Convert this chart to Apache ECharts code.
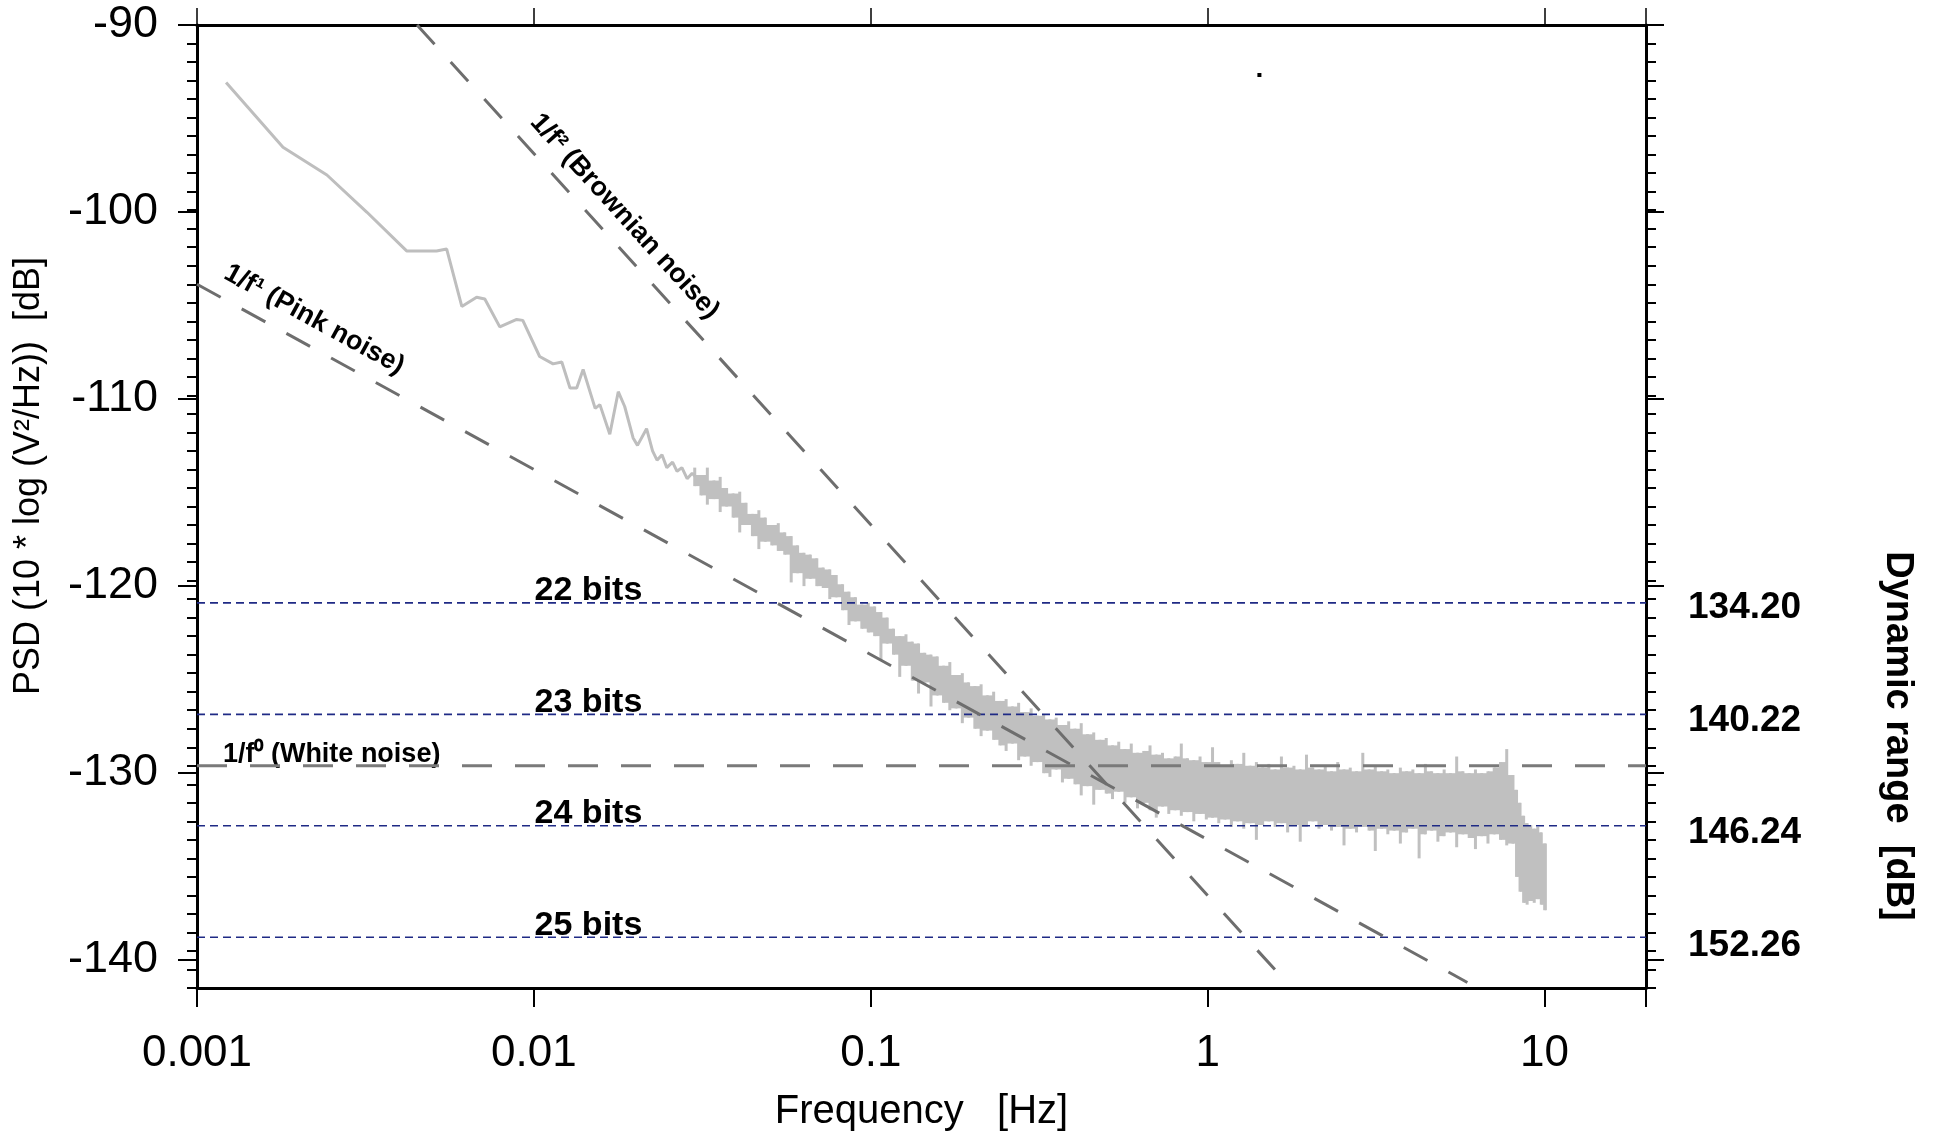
<!DOCTYPE html>
<html>
<head>
<meta charset="utf-8">
<script src="https://cdn.jsdelivr.net/npm/echarts@6/dist/echarts.min.js"></script>
<style>
html,body{margin:0;padding:0;background:#ffffff;}
#chart{width:1935px;height:1137px;}
</style>
</head>
<body>
<div id="chart"></div>
<script>
// ---------------- data ----------------
const xTickLabels = ['0.001', '0.01', '0.1', '1', '10'];
const yTickValues = [-140, -130, -120, -110, -100, -90];

const bitsNames = ['22 bits', '23 bits', '24 bits', '25 bits'];
const bitsLevels = [-121.2, -127.22, -133.24, -139.26];
const dynRange = ['134.20', '140.22', '146.24', '152.26'];

// low-frequency part of the measured PSD (single trace)
const psdLineF = [0.00122, 0.00180, 0.00243, 0.00319, 0.00419, 0.00514, 0.00551, 0.00611, 0.00676, 0.00715,
  0.00792, 0.00889, 0.00927, 0.0104, 0.0114, 0.0121, 0.0128, 0.0134, 0.0140, 0.0152,
  0.0157, 0.0168, 0.0178, 0.0186, 0.0197, 0.0203, 0.0216, 0.0225, 0.0232, 0.0240,
  0.0248, 0.0258, 0.0266, 0.0275, 0.0285, 0.0295, 0.0302];
const psdLineV = [-93.1, -96.6, -98.1, -100.1, -102.2, -102.2, -102.1, -105.2, -104.7, -104.8,
  -106.3, -105.9, -105.95, -107.9, -108.3, -108.2, -109.6, -109.6, -108.6, -110.7,
  -110.5, -112.1, -109.8, -110.6, -112.3, -112.7, -111.8, -113.0, -113.5, -113.2,
  -113.9, -113.6, -114.1, -113.9, -114.5, -114.2, -114.4];

// high-frequency part: per frequency bin, upper and lower extent of the noisy trace
const bandF = [
  0.0300, 0.0313, 0.0327, 0.0342, 0.0357, 0.0373, 0.0390, 0.0408, 0.0426, 0.0445,
  0.0465, 0.0486, 0.0508, 0.0531, 0.0555, 0.0580, 0.0606, 0.0633, 0.0661, 0.0691,
  0.0722, 0.0755, 0.0789, 0.0824, 0.0861, 0.0900, 0.0940, 0.0982,
  0.1026, 0.1071, 0.1118, 0.1167, 0.1218, 0.1271, 0.1327, 0.1385, 0.1445, 0.1508,
  0.1574, 0.1643, 0.1715, 0.1790, 0.1868, 0.1950, 0.2035, 0.2124, 0.2217, 0.2314,
  0.2415, 0.2520, 0.2630, 0.2745, 0.2865, 0.2990, 0.3120, 0.3257, 0.3400, 0.3548,
  0.3703, 0.3865, 0.4034, 0.4210, 0.4394, 0.4586, 0.4786, 0.4995, 0.5213, 0.5441,
  0.5679, 0.5927, 0.6186, 0.6456, 0.6738, 0.7032, 0.7339, 0.7660, 0.7995, 0.8344,
  0.8708, 0.9088, 0.9485, 0.9899,
  1.033, 1.078, 1.125, 1.175, 1.226, 1.279, 1.335, 1.394, 1.455, 1.518,
  1.585, 1.654, 1.726, 1.802, 1.881, 1.963, 2.049, 2.138, 2.232, 2.329,
  2.431, 2.537, 2.648, 2.764, 2.885, 3.011, 3.142, 3.280, 3.423, 3.573,
  3.729, 3.892, 4.062, 4.239, 4.425, 4.618, 4.820, 5.030, 5.250, 5.480,
  5.719, 5.969, 6.230, 6.502, 6.786, 7.083, 7.392, 7.715, 8.052,
  8.25, 8.45, 8.66, 8.87, 9.09, 9.31, 9.54, 9.77, 10.0, 10.1];
const bandHi = [
  -113.9, -114.3, -113.9, -114.6, -114.4, -115.0, -115.3, -115.2, -115.8, -116.4,
  -116.2, -116.6, -117.0, -116.9, -117.4, -117.6, -118.1, -118.5, -118.6, -118.8,
  -119.3, -119.4, -119.7, -120.2, -120.6, -120.9, -121.3, -121.2,
  -121.4, -121.7, -122.0, -122.6, -123.0, -122.9, -123.3, -123.4, -123.9, -124.0,
  -124.1, -124.6, -124.4, -125.1, -125.0, -125.5, -125.7, -125.6, -126.2, -126.0,
  -126.5, -126.4, -126.8, -126.6, -127.1, -126.9, -127.3, -127.2, -127.5, -127.4,
  -127.8, -127.6, -128.0, -127.7, -128.3, -128.2, -128.6, -128.5, -128.9, -128.7,
  -129.1, -128.8, -129.3, -129.2, -128.9, -129.4, -129.3, -129.6, -129.5, -128.8,
  -129.6, -129.7, -129.5, -129.8,
  -129.0, -129.8, -130.0, -129.7, -129.9, -129.3, -130.0, -129.8, -130.1, -129.9,
  -130.2, -129.5, -130.1, -130.0, -130.2, -129.4, -130.1, -130.2, -130.0, -130.3,
  -129.8, -130.2, -130.1, -130.3, -129.3, -130.2, -130.0, -130.3, -130.2, -130.4,
  -130.1, -130.3, -130.2, -130.4, -129.9, -130.3, -130.4, -130.2, -130.4, -129.5,
  -130.3, -130.4, -130.2, -130.4, -130.3, -130.1, -129.8, -129.1, -130.5,
  -131.3, -132.0, -132.7, -133.1, -133.2, -133.4, -133.3, -133.6, -134.2];
const bandLo = [
  -114.9, -115.4, -115.9, -115.6, -116.3, -116.0, -116.6, -117.4, -117.0, -117.6,
  -118.3, -117.9, -118.1, -118.4, -118.6, -120.1, -119.6, -120.3, -119.9, -120.3,
  -120.4, -121.0, -120.9, -121.6, -122.4, -122.2, -122.6, -122.8,
  -123.0, -124.3, -123.4, -124.0, -125.2, -124.6, -125.4, -126.1, -125.5, -126.8,
  -126.2, -126.6, -127.0, -126.9, -127.7, -127.4, -128.0, -128.4, -128.1, -128.6,
  -128.9, -129.2, -128.8, -129.7, -129.5, -130.0, -129.8, -130.4, -130.6, -130.2,
  -130.9, -130.7, -131.0, -131.6, -131.1, -132.1, -131.3, -131.5, -131.8, -131.4,
  -132.0, -131.7, -132.3, -132.0, -132.4, -132.8, -132.2, -132.6, -132.4, -132.7,
  -132.5, -133.0, -132.6, -132.9,
  -132.8, -133.1, -132.9, -133.3, -133.0, -133.4, -133.1, -134.0, -133.2, -133.0,
  -133.3, -133.1, -133.6, -133.2, -134.1, -133.3, -133.0, -133.4, -133.2, -133.5,
  -133.3, -134.3, -133.4, -133.6, -133.3, -133.5, -134.6, -133.4, -133.7, -133.5,
  -134.2, -133.6, -133.4, -135.0, -133.7, -133.5, -134.1, -133.8, -133.6, -134.4,
  -133.7, -133.9, -134.5, -133.8, -134.2, -133.7, -134.0, -134.3, -134.2,
  -136.0, -136.8, -137.4, -137.5, -137.3, -137.4, -137.2, -137.5, -137.8];

// reference noise slopes (end points)
const brownF = [0.0045, 1.6];
const brownV = [-90.0, -141.1];
const pinkF = [0.001, 5.9];
const pinkV = [-104.0, -141.7];
const whiteF = [0.001, 20];
const whiteV = [-130, -130];
const bitsLineF = [0.001, 20];

// stray dot in the original picture
const strayDot = [[1.424, -92.7]];

// ---------------- chart ----------------
const FONT = "'Liberation Sans', Arial, Helvetica, sans-serif";
const chart = echarts.init(document.getElementById('chart'), null, {renderer: 'canvas'});

const psdLine = psdLineF.map((f, i) => [f, psdLineV[i]]);
const nBins = Math.min(bandHi.length, bandLo.length, bandF.length - 1);
const band = [];
for (let i = 0; i < nBins; i++) {
  const j = i + 1 < nBins ? i + 1 : i;
  band.push([bandF[i], bandHi[i], bandLo[i], bandF[i + 1], bandHi[j], bandLo[j]]);
}

const pairs = (xs, ys) => xs.map((x, i) => [x, ys[i]]);
const refColor = '#6e6e6e';
const bitsColor = '#1f2a85';
const psdColor = '#c0c0c0';

function xLabel(v) {
  const lg = Math.log10(v);
  const k = Math.round(lg);
  if (Math.abs(lg - k) > 1e-6) return '';
  return xTickLabels[k + 3] !== undefined ? xTickLabels[k + 3] : '';
}
function drLabel(v) {
  for (let i = 0; i < bitsLevels.length; i++) {
    if (Math.abs(bitsLevels[i] - v) < 0.01) return dynRange[i];
  }
  return '';
}

const gridBox = {left: 197, right: 289, top: 25, bottom: 140, containLabel: false};

const series = [];

// measured PSD (noisy band part)
series.push({
  type: 'custom', name: 'PSD', xAxisIndex: 0, yAxisIndex: 0, clip: true, z: 1,
  data: band, encode: {x: [0, 3], y: [1, 2]}, silent: true, animation: false,
  renderItem: function (params, api) {
    const f0 = api.value(0), f1 = api.value(3);
    const hi = api.value(1), lo = api.value(2), hiN = api.value(4), loN = api.value(5);
    const x0 = api.coord([f0, hi])[0];
    const x1 = api.coord([f1, hi])[0];
    const yHi = api.coord([f0, hi])[1], yLo = api.coord([f0, lo])[1];
    const yHiN = api.coord([f1, hiN])[1], yLoN = api.coord([f1, loN])[1];
    const coreTop = Math.max(yHi, yHiN);
    const coreBot = Math.min(yLo, yLoN);
    const children = [];
    if (coreBot > coreTop) {
      children.push({type: 'rect', shape: {x: x0, y: coreTop, width: x1 - x0 + 0.8, height: coreBot - coreTop},
        style: {fill: psdColor}});
    }
    children.push({type: 'rect', shape: {x: x0 - 1.4, y: yHi, width: 3, height: yLo - yHi},
      style: {fill: psdColor}});
    return {type: 'group', children: children};
  }
});
// measured PSD (low-frequency trace)
series.push({
  type: 'line', name: 'PSD trace', xAxisIndex: 0, yAxisIndex: 0, data: psdLine,
  symbol: 'none', z: 2, animation: false, silent: true,
  lineStyle: {color: '#bebebe', width: 3}
});

// bits levels
bitsLevels.forEach((lv, i) => {
  series.push({
    type: 'line', name: bitsNames[i], xAxisIndex: 0, yAxisIndex: 0,
    data: bitsLineF.map(f => [f, lv]), symbol: 'none', z: 4, animation: false, silent: true,
    lineStyle: {color: bitsColor, width: 1.7, type: [8, 5]}
  });
});
series.push({
  type: 'scatter', name: 'bits labels', xAxisIndex: 0, yAxisIndex: 0, symbolSize: 0,
  data: bitsLevels.map(lv => [0.01452, lv]), z: 6, animation: false, silent: true,
  itemStyle: {opacity: 1},
  label: {
    show: true, position: 'top', distance: -5, opacity: 1,
    formatter: p => bitsNames[p.dataIndex],
    fontFamily: FONT, fontSize: 34, fontWeight: 'bold', color: '#000'
  }
});

// reference lines with labels
const hiddenLine = {color: 'rgba(0,0,0,0)', width: 0, opacity: 1};
function refMarkLabel(text, pos, dist, size) {
  return {show: true, position: pos, distance: dist, formatter: text, fontFamily: FONT,
    fontWeight: 'bold', fontSize: size, color: '#000', opacity: 1};
}
series.push({
  type: 'line', name: '1/f^2', xAxisIndex: 0, yAxisIndex: 0, data: pairs(brownF, brownV),
  symbol: 'none', z: 5, animation: false, silent: true,
  lineStyle: {color: refColor, width: 3, type: [26, 24]},
  markLine: {
    symbol: 'none', silent: true, animation: false, lineStyle: hiddenLine,
    label: refMarkLabel('1/f\u00B2 (Brownian noise)', 'insideMiddleTop', 12, 27),
    data: [[{coord: [0.01, -97.0]}, {coord: [0.0267, -105.53]}]]
  }
});
series.push({
  type: 'line', name: '1/f', xAxisIndex: 0, yAxisIndex: 0, data: pairs(pinkF, pinkV),
  symbol: 'none', z: 5, animation: false, silent: true,
  lineStyle: {color: refColor, width: 3, type: [27, 24]},
  markLine: {
    symbol: 'none', silent: true, animation: false, lineStyle: hiddenLine,
    label: refMarkLabel('1/f\u00B9 (Pink noise)', 'insideMiddleTop', 12, 27),
    data: [[{coord: [0.001259, -105.0]}, {coord: [0.003334, -109.23]}]]
  }
});
series.push({
  type: 'line', name: '1/f^0', xAxisIndex: 0, yAxisIndex: 0, data: pairs(whiteF, whiteV),
  symbol: 'none', z: 5, animation: false, silent: true,
  lineStyle: {color: '#7a7a7a', width: 3, type: [30, 23]},
  markLine: {
    symbol: 'none', silent: true, animation: false, lineStyle: hiddenLine,
    label: refMarkLabel('1/f\u2070 (White noise)', 'insideStartTop', -2, 27),
    data: [[{coord: [0.00121, -130]}, {coord: [0.01, -130]}]]
  }
});
series.push({
  type: 'scatter', name: 'dot', xAxisIndex: 0, yAxisIndex: 0, data: strayDot,
  symbol: 'rect', symbolSize: 4, itemStyle: {color: '#000', opacity: 1}, z: 6, animation: false, silent: true
});

const axisLineStyle = {show: true, onZero: false, lineStyle: {color: '#000', width: 3}};

const option = {
  backgroundColor: '#ffffff',
  animation: false,
  grid: [Object.assign({}, gridBox), Object.assign({}, gridBox)],
  xAxis: [
    {
      gridIndex: 0, type: 'log', logBase: 10, min: 0.001, max: 20, position: 'bottom',
      axisLine: axisLineStyle,
      axisTick: {show: true, inside: false, length: 19, lineStyle: {color: '#000', width: 2}},
      minorTick: {show: false}, splitLine: {show: false}, minorSplitLine: {show: false},
      axisLabel: {show: true, margin: 44, formatter: xLabel, fontFamily: FONT, fontSize: 44, color: '#000'},
      name: 'Frequency   [Hz]', nameLocation: 'middle', nameGap: 104,
      nameTextStyle: {fontFamily: FONT, fontSize: 40, color: '#000'}
    },
    {
      gridIndex: 1, type: 'log', logBase: 10, min: 0.001, max: 20, position: 'top',
      axisLine: axisLineStyle,
      axisTick: {show: true, inside: false, length: 17, lineStyle: {color: '#000', width: 1.5}},
      minorTick: {show: false}, splitLine: {show: false},
      axisLabel: {show: false}
    }
  ],
  yAxis: [
    { // left, 1 dB ticks
      gridIndex: 0, type: 'value', position: 'left', min: -142, max: -90, interval: 1,
      axisLine: axisLineStyle,
      axisTick: {show: true, inside: false, length: 10, lineStyle: {color: '#000', width: 2}},
      splitLine: {show: false},
      axisLabel: {show: false}
    },
    { // right, 1 dB ticks
      gridIndex: 0, type: 'value', position: 'right', min: -142, max: -90, interval: 1,
      axisLine: axisLineStyle,
      axisTick: {show: true, inside: false, length: 10, lineStyle: {color: '#000', width: 2}},
      splitLine: {show: false},
      axisLabel: {show: false}
    },
    { // left, major ticks and labels
      gridIndex: 1, type: 'value', position: 'left', min: -142, max: -90,
      axisLine: {show: false},
      axisTick: {show: true, inside: false, length: 19, customValues: yTickValues,
        lineStyle: {color: '#000', width: 2}},
      splitLine: {show: false},
      axisLabel: {show: true, customValues: yTickValues, margin: 39,
        fontFamily: FONT, fontSize: 45, color: '#000', formatter: v => String(v)},
      name: 'PSD (10 * log (V\u00B2/Hz))  [dB]', nameLocation: 'middle', nameGap: 150,
      nameTextStyle: {fontFamily: FONT, fontSize: 36, color: '#000', padding: [0, 0, 0, 70]}
    },
    { // right, major ticks and dynamic range labels
      gridIndex: 1, type: 'value', position: 'right', min: -142, max: -90,
      axisLine: {show: false},
      axisTick: {show: true, inside: false, length: 18, customValues: yTickValues,
        lineStyle: {color: '#000', width: 2}},
      splitLine: {show: false},
      axisLabel: {show: true, customValues: bitsLevels, margin: 42, formatter: drLabel,
        fontFamily: FONT, fontSize: 37, fontWeight: 'bold', color: '#000'},
      name: 'Dynamic range  [dB]', nameLocation: 'middle', nameGap: 232, nameRotate: -90,
      nameTextStyle: {fontFamily: FONT, fontSize: 38, fontWeight: 'bold', color: '#000',
        padding: [0, 0, 0, 450]}
    }
  ],
  series: series
};
chart.setOption(option);
</script>
</body>
</html>
